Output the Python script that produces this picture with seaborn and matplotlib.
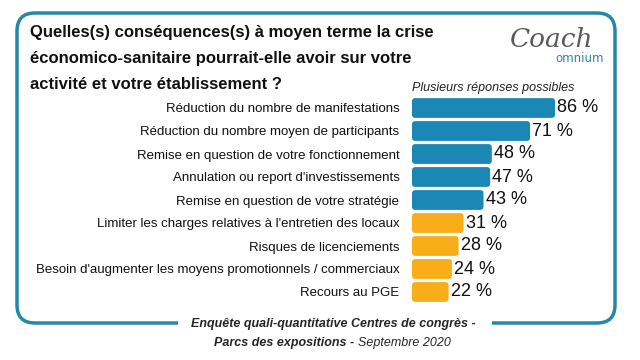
import matplotlib
matplotlib.use("Agg")
import matplotlib.pyplot as plt
from matplotlib.patches import FancyBboxPatch, Rectangle
import pandas as pd
import seaborn as sns

# data
categories = [
    "Réduction du nombre de manifestations",
    "Réduction du nombre moyen de participants",
    "Remise en question de votre fonctionnement",
    "Annulation ou report d'investissements",
    "Remise en question de votre stratégie",
    "Limiter les charges relatives à l'entretien des locaux",
    "Risques de licenciements",
    "Besoin d'augmenter les moyens promotionnels / commerciaux",
    "Recours au PGE",
]
values = [86, 71, 48, 47, 43, 31, 28, 24, 22]
groups = ["top", "top", "top", "top", "top", "low", "low", "low", "low"]

title_lines = [
    "Quelles(s) conséquences(s) à moyen terme la crise",
    "économico-sanitaire pourrait-elle avoir sur votre",
    "activité et votre établissement ?",
]

df = pd.DataFrame({"cat": categories, "val": values, "grp": groups})

BLUE = "#1a87b4"
ORANGE = "#f8ae19"
TEAL = "#2589a6"

sns.set_theme(style="white")
plt.rcParams["font.family"] = ["Liberation Sans", "DejaVu Sans"]

fig = plt.figure(figsize=(6.4, 3.6), dpi=100)

# background axes in pixel coords for the frame and texts
bg = fig.add_axes([0, 0, 1, 1])
bg.set_xlim(0, 640)
bg.set_ylim(360, 0)
bg.axis("off")

frame = FancyBboxPatch((17, 13), 598, 310, boxstyle="round,pad=0,rounding_size=18",
                       fc="none", ec=TEAL, lw=2.5)
bg.add_patch(frame)
bg.add_patch(Rectangle((178, 316), 314, 14, fc="white", ec="none", zorder=3))

for k, line in enumerate(title_lines):
    bg.text(30, 37 + 26 * k, line, fontsize=12, fontweight="bold", va="baseline",
            ha="left", color="#111111")

bg.text(412, 91, "Plusieurs réponses possibles", fontsize=9, style="italic",
        va="baseline", ha="left", color="#222222")

# logo
bg.text(552, 47, "Coach", fontsize=19, style="italic", family="DejaVu Serif",
        color="#5a5a5a", ha="center", va="baseline")
bg.text(555, 62, "omnium", fontsize=8.5, color=TEAL, ha="left", va="baseline",
        family="DejaVu Sans")

# footer
bg.text(333, 324, "Enquête quali-quantitative Centres de congrès -", fontsize=9,
        fontweight="bold", style="italic", ha="center", va="center", zorder=4)
bg.text(358, 343, "Parcs des expositions - ", fontsize=9, fontweight="bold",
        style="italic", ha="right", va="center", zorder=4)
bg.text(358, 343, "Septembre 2020", fontsize=9, style="italic", ha="left",
        va="center", zorder=4)

# bar axes
ax = fig.add_axes([412 / 640, 1 - 303.5 / 360, 166.3 / 640, 207 / 360])
ax.patch.set_alpha(0)
sns.barplot(data=df, x="val", y="cat", hue="grp", palette={"top": BLUE, "low": ORANGE},
            width=0.86, dodge=False, legend=False, saturation=1, ax=ax)
ax.set_xlim(0, 100)
ax.set_ylim(8.5, -0.5)

# rounded bar ends
for p in list(ax.patches):
    x0, y0 = p.get_x(), p.get_y()
    w, h = p.get_width(), p.get_height()
    if w <= 0:
        continue
    fc = p.get_facecolor()
    p.remove()
    ax.add_patch(FancyBboxPatch((x0, y0), w, h,
                                boxstyle="round,pad=0,rounding_size=2",
                                mutation_aspect=0.072, fc=fc, ec="none"))

for i, v in enumerate(values):
    ax.text(v + 1.2, i, f"{v} %", fontsize=13, va="center", ha="left", color="#111111")

ax.set_xlabel("")
ax.set_ylabel("")
ax.set_xticks([])
ax.tick_params(axis="y", length=0, pad=9, labelsize=9.5, labelcolor="#111111")
for s in ax.spines.values():
    s.set_visible(False)

fig.savefig("out.png", dpi=100)
